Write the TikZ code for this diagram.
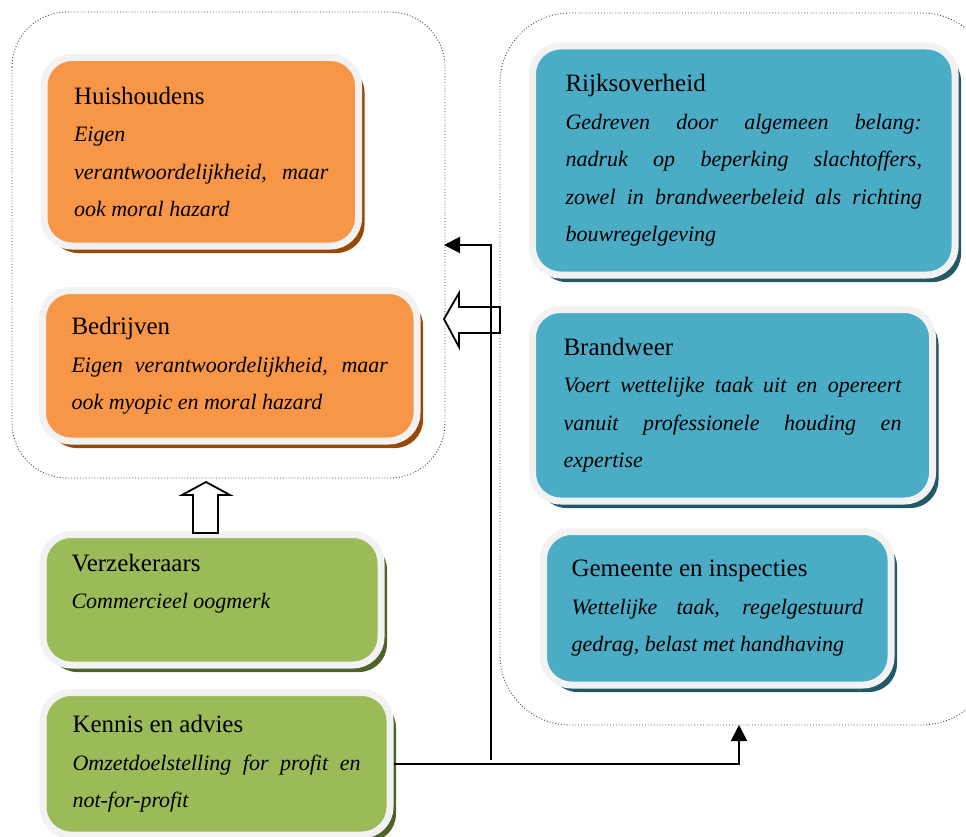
\documentclass[tikz,border=0pt]{standalone}
\usepackage{fontspec}
\setmainfont{Liberation Serif}
\usetikzlibrary{shadows,arrows.meta}

\definecolor{oranje}{HTML}{F79646}
\definecolor{oranjeschaduw}{HTML}{984807}
\definecolor{groen}{HTML}{9BBB59}
\definecolor{groenschaduw}{HTML}{4F6228}
\definecolor{blauw}{HTML}{4BACC6}
\definecolor{blauwschaduw}{HTML}{215967}
\definecolor{rand}{HTML}{F2F2F2}

\newcommand\kop[1]{{\fontsize{25}{37.5}\selectfont #1}}

\tikzset{
  vak/.style 2 args={draw=rand, line width=7pt, fill=#1, rounded corners=28pt,
    drop shadow={shadow xshift=6pt, shadow yshift=-7pt, fill=#2, opacity=1},
    anchor=north west, align=justify, inner ysep=0pt,
    font=\fontsize{22}{37.5}\selectfont},
  groep/.style={draw=black!75, dotted, line width=0.9pt},
  pijl/.style={line width=2pt, -{Triangle[length=16pt,width=16pt]}},
  blokpijl/.style={draw, fill=white, line width=1.8pt, line join=miter}
}

\begin{document}
\begin{tikzpicture}[x=1pt,y=-1pt]
\useasboundingbox (0,0) rectangle (966,837);
% GROUPS
\draw[groep, rounded corners=55pt] (12,12) rectangle (445,478);
\draw[groep, rounded corners=70pt] (500,13) rectangle (992,725);

% LEFT SIDE
\node[vak={oranje}{oranjeschaduw}, text width=254.5pt, inner xsep=30pt, minimum height=188.5pt]
  (huishoudens) at (40.5,54)
  {\kop{Huishoudens}\\ \itshape Eigen\\ verantwoordelijkheid, maar\linebreak ook moral hazard};
\node[vak={oranje}{oranjeschaduw}, text width=316.5pt, inner xsep=29pt, minimum height=150.5pt]
  (bedrijven) at (39,287)
  {\kop{Bedrijven}\\ \itshape Eigen verantwoordelijkheid, maar\linebreak ook myopic en moral hazard};
\node[vak={groen}{groenschaduw}, text width=281pt, inner xsep=28.5pt, minimum height=130.5pt]
  (verzekeraars) at (39.5,531)
  {\kop{Verzekeraars}\\ \itshape Commercieel oogmerk\\[-12pt]\strut};
\node[vak={groen}{groenschaduw}, text width=288pt, inner xsep=29.5pt, minimum height=142.5pt]
  (kennis) at (39.5,689)
  {\kop{Kennis en advies}\\ \itshape Omzetdoelstelling for profit en\linebreak not-for-profit};

% RIGHT SIDE
\node[vak={blauw}{blauwschaduw}, text width=356.5pt, inner xsep=33pt, minimum height=229pt]
  (rijk) at (529,42.5)
  {\kop{Rijksoverheid}\\ \itshape Gedreven door algemeen belang:\linebreak nadruk op beperking slachtoffers,\linebreak zowel in brandweerbeleid als richting\linebreak bouwregelgeving};
\node[vak={blauw}{blauwschaduw}, text width=338pt, inner xsep=31pt, minimum height=191.5pt]
  (brandweer) at (529,306)
  {\kop{Brandweer}\\ \itshape Voert wettelijke taak uit en opereert\linebreak vanuit professionele houding en\linebreak expertise};
\node[vak={blauw}{blauwschaduw}, text width=291.5pt, inner xsep=28pt, minimum height=153.5pt]
  (gemeente) at (540,528)
  {\kop{Gemeente en inspecties}\\ \itshape Wettelijke taak, regelgestuurd\linebreak gedrag, belast met handhaving};

% BLOCK ARROWS
\draw[blokpijl] (444,319) -- (459,293) -- (459,307) -- (500,307) -- (500,333)
  -- (459,333) -- (459,347) -- cycle;
\draw[blokpijl] (206,482) -- (230,495) -- (218,495) -- (218,533) -- (193,533)
  -- (193,495) -- (182,495) -- cycle;

% CONNECTIONS
\coordinate (split) at (491,760);
\coordinate (rechtsonder) at (739,725);
\coordinate (linksboven) at (444,245);
\draw[pijl] (kennis.east) -| (rechtsonder);
\draw[pijl] (split) |- (linksboven);
\end{tikzpicture}
\end{document}
